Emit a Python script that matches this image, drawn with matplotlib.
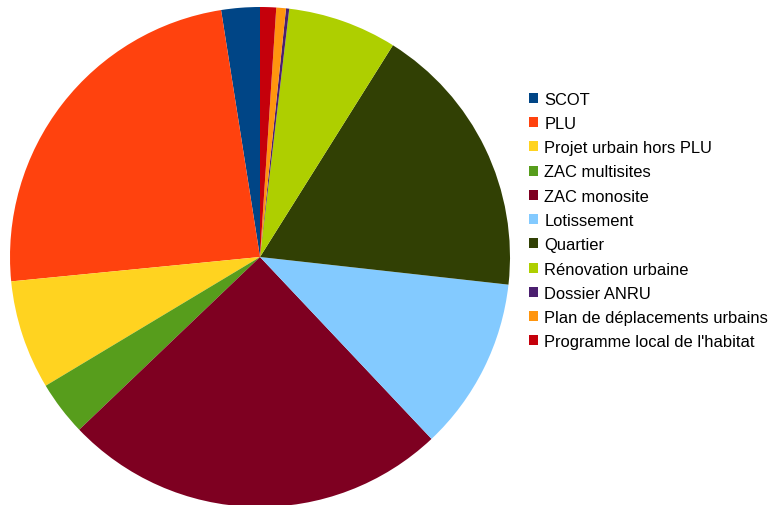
import matplotlib
matplotlib.use("Agg")
import matplotlib.pyplot as plt
from matplotlib.patches import Patch

plt.rcParams['font.family'] = ['Liberation Sans', 'DejaVu Sans']

categories = ["SCOT", "PLU", "Projet urbain hors PLU", "ZAC multisites", "ZAC monosite",
              "Lotissement", "Quartier", "Rénovation urbaine", "Dossier ANRU",
              "Plan de déplacements urbains", "Programme local de l'habitat"]
values = [12, 116, 34, 17, 120, 54, 86, 34, 1, 3, 5]
colors = ["#004586", "#ff420e", "#ffd320", "#579d1c", "#7e0021", "#83caff",
          "#314004", "#aecf00", "#4b1f6f", "#ff950e", "#c5000b"]

fig = plt.figure(figsize=(7.73, 5.06), dpi=100)
ax = fig.add_axes([10 / 773, -2 / 506, 500 / 773, 500 / 506])
ax.pie(values, colors=colors, startangle=90, counterclock=True,
       wedgeprops=dict(linewidth=0))
ax.set_xlim(-1, 1)
ax.set_ylim(-1, 1)
ax.axis('off')

handles = [Patch(facecolor=c, edgecolor='none') for c in colors]
fig.legend(handles, categories, loc='center left', bbox_to_anchor=(529 / 773, 1 - 221.5 / 506),
           frameon=False, fontsize=11.9, handlelength=0.55, handleheight=0.55,
           handletextpad=0.38, labelspacing=0.56, borderpad=0, borderaxespad=0)

fig.savefig("out.png", dpi=100)
